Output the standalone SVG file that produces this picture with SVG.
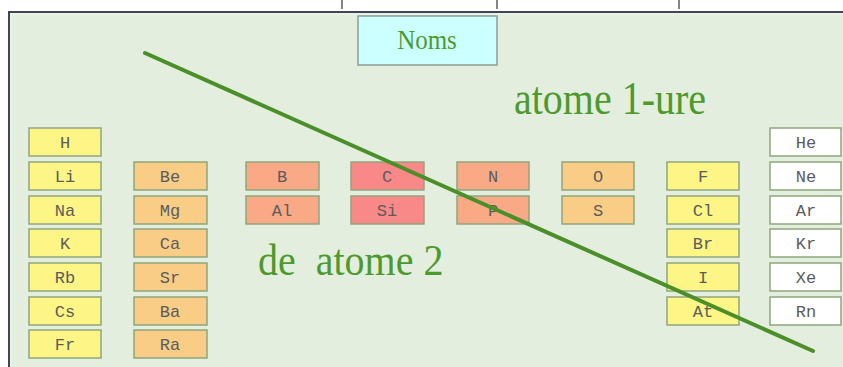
<svg xmlns="http://www.w3.org/2000/svg" width="843" height="367" viewBox="0 0 843 367">
<style>
.c{stroke:#8ea67c;stroke-width:1.5}
.y{fill:#fdf585}.o{fill:#f9cd86}.s{fill:#f9a986}.r{fill:#f98888}.w{fill:#ffffff}
.t{font-family:"Liberation Mono",monospace;font-size:17px;fill:#5c5c5c;text-anchor:middle}
.big{font-family:"Liberation Serif",serif;font-size:40px;fill:#4c9a2c}
</style>
<rect x="0" y="0" width="843" height="367" fill="#ffffff"/>
<g id="ticks" stroke="#333" stroke-width="1.2">
<line x1="342" y1="0" x2="342" y2="9"/><line x1="497" y1="0" x2="497" y2="9"/><line x1="679" y1="0" x2="679" y2="9"/>
</g>
<rect x="9" y="12" width="840" height="360" fill="#e4eedf"/>
<path d="M9 372 V12 H843" fill="none" stroke="#40455a" stroke-width="2"/>
<path d="M11 372 V14 H843" fill="none" stroke="#eef3ec" stroke-width="2" opacity="0.6"/>
<g id="noms"><rect x="358" y="16" width="139" height="49" fill="#ccffff" stroke="#8c9e94" stroke-width="1.5"/>
<text x="427" y="49" font-family="Liberation Serif,serif" font-size="25" fill="#4c9a2c" text-anchor="middle" transform="translate(427,49) scale(1,1.1) translate(-427,-49)">Noms</text></g>
<g id="label-atome1"><text class="big" x="0" y="0" transform="translate(514,114) scale(1,1.15)">atome 1-ure</text></g>
<g id="label-atome2"><text class="big" x="0" y="0" transform="translate(258,275) scale(1,1.12)" xml:space="preserve">de  atome 2</text></g>
<g id="H"><rect class="c y" x="29" y="128" width="72" height="28"/><text class="t" x="65" y="148">H</text></g>
<g id="Li"><rect class="c y" x="29" y="162" width="72" height="28"/><text class="t" x="65" y="182">Li</text></g>
<g id="Na"><rect class="c y" x="29" y="196" width="72" height="28"/><text class="t" x="65" y="216">Na</text></g>
<g id="K"><rect class="c y" x="29" y="229" width="72" height="28"/><text class="t" x="65" y="249">K</text></g>
<g id="Rb"><rect class="c y" x="29" y="263" width="72" height="28"/><text class="t" x="65" y="283">Rb</text></g>
<g id="Cs"><rect class="c y" x="29" y="297" width="72" height="28"/><text class="t" x="65" y="317">Cs</text></g>
<g id="Fr"><rect class="c y" x="29" y="330" width="72" height="28"/><text class="t" x="65" y="350">Fr</text></g>
<g id="Be"><rect class="c o" x="134" y="162" width="73" height="28"/><text class="t" x="170" y="182">Be</text></g>
<g id="Mg"><rect class="c o" x="134" y="196" width="73" height="28"/><text class="t" x="170" y="216">Mg</text></g>
<g id="Ca"><rect class="c o" x="134" y="229" width="73" height="28"/><text class="t" x="170" y="249">Ca</text></g>
<g id="Sr"><rect class="c o" x="134" y="263" width="73" height="28"/><text class="t" x="170" y="283">Sr</text></g>
<g id="Ba"><rect class="c o" x="134" y="297" width="73" height="28"/><text class="t" x="170" y="317">Ba</text></g>
<g id="Ra"><rect class="c o" x="134" y="330" width="73" height="28"/><text class="t" x="170" y="350">Ra</text></g>
<g id="B"><rect class="c s" x="246" y="162" width="73" height="28"/><text class="t" x="282" y="182">B</text></g>
<g id="Al"><rect class="c s" x="246" y="196" width="73" height="28"/><text class="t" x="282" y="216">Al</text></g>
<g id="C"><rect class="c r" x="351" y="162" width="73" height="28"/><text class="t" x="387" y="182">C</text></g>
<g id="Si"><rect class="c r" x="351" y="196" width="73" height="28"/><text class="t" x="387" y="216">Si</text></g>
<g id="N"><rect class="c s" x="457" y="162" width="72" height="28"/><text class="t" x="493" y="182">N</text></g>
<g id="P"><rect class="c s" x="457" y="196" width="72" height="28"/><text class="t" x="493" y="216">P</text></g>
<g id="O"><rect class="c o" x="562" y="162" width="72" height="28"/><text class="t" x="598" y="182">O</text></g>
<g id="S"><rect class="c o" x="562" y="196" width="72" height="28"/><text class="t" x="598" y="216">S</text></g>
<g id="F"><rect class="c y" x="667" y="162" width="72" height="28"/><text class="t" x="703" y="182">F</text></g>
<g id="Cl"><rect class="c y" x="667" y="196" width="72" height="28"/><text class="t" x="703" y="216">Cl</text></g>
<g id="Br"><rect class="c y" x="667" y="229" width="72" height="28"/><text class="t" x="703" y="249">Br</text></g>
<g id="I"><rect class="c y" x="667" y="263" width="72" height="28"/><text class="t" x="703" y="283">I</text></g>
<g id="At"><rect class="c y" x="667" y="297" width="72" height="28"/><text class="t" x="703" y="317">At</text></g>
<g id="He"><rect class="c w" x="770" y="128" width="71" height="28"/><text class="t" x="806" y="148">He</text></g>
<g id="Ne"><rect class="c w" x="770" y="162" width="71" height="28"/><text class="t" x="806" y="182">Ne</text></g>
<g id="Ar"><rect class="c w" x="770" y="196" width="71" height="28"/><text class="t" x="806" y="216">Ar</text></g>
<g id="Kr"><rect class="c w" x="770" y="229" width="71" height="28"/><text class="t" x="806" y="249">Kr</text></g>
<g id="Xe"><rect class="c w" x="770" y="263" width="71" height="28"/><text class="t" x="806" y="283">Xe</text></g>
<g id="Rn"><rect class="c w" x="770" y="297" width="71" height="28"/><text class="t" x="806" y="317">Rn</text></g>
<g id="connectors"><line x1="145" y1="53" x2="813" y2="351" stroke="#4a8f28" stroke-width="4" stroke-linecap="round"/></g>
</svg>
